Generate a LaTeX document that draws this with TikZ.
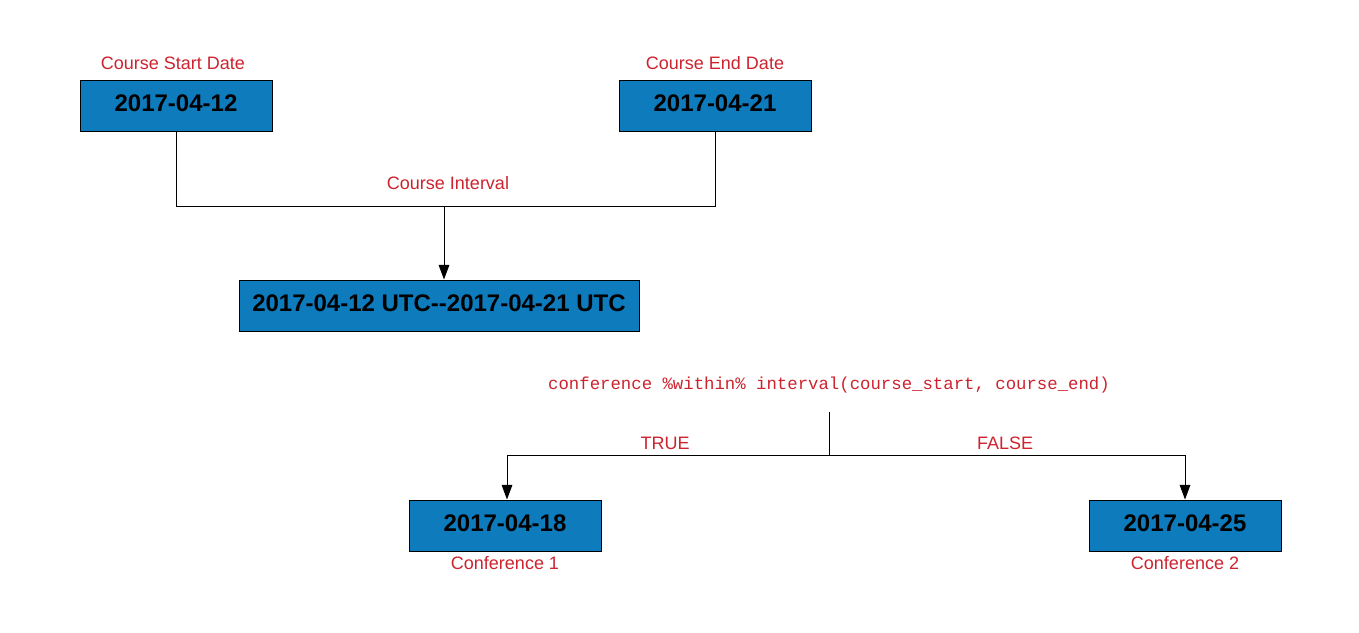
\documentclass[tikz,border=0pt]{standalone}
\usepackage{fontspec}
\setmainfont{Liberation Sans}
\newfontfamily\codefont{Liberation Mono}
\usetikzlibrary{arrows.meta,shadows}
\definecolor{boxblue}{RGB}{14,123,189}
\definecolor{lblred}{RGB}{204,35,46}
\tikzset{
  datebox/.style={draw=black, line width=0.75pt, fill=boxblue, minimum width=144pt, minimum height=38.25pt,
    inner sep=0pt, text depth=3pt, font=\fontsize{18}{20}\selectfont\bfseries, text=black,
    drop shadow={shadow xshift=1pt, shadow yshift=-1pt, fill=black, opacity=1}},
  lbl/.style={text=lblred, font=\fontsize{13.5}{15}\selectfont, inner sep=0pt},
  codelbl/.style={text=lblred, font=\codefont\fontsize{13}{15}\selectfont, inner sep=0pt},
  conn/.style={draw=black, line width=0.75pt},
  arr/.style={conn, -{Triangle[length=11pt,width=8pt]}}
}
\begin{document}
\begin{tikzpicture}[x=0.75pt,y=-0.75pt]
\useasboundingbox (0,0) rectangle (1359,632);
% boxes
\node[datebox] (s) at (176,105.5) {2017-04-12};
\node[datebox] (e) at (715,105.5) {2017-04-21};
\node[datebox, minimum width=300pt] (iv) at (439,305.5) {2017-04-12 UTC-{}-2017-04-21 UTC};
\node[datebox] (c1) at (505,525.5) {2017-04-18};
\node[datebox] (c2) at (1185,525.5) {2017-04-25};
% labels
\node[lbl] (ls) at (173,63) {Course Start Date};
\node[lbl] (le) at (715,63) {Course End Date};
\node[lbl] (li) at (448,183) {Course Interval};
\node[codelbl] (code) at (829,385) {conference \%within\% interval(course\_start, course\_end)};
\node[lbl] (lt) at (665,443) {TRUE};
\node[lbl] (lf) at (1005,443) {FALSE};
\node[lbl] (l1) at (505,563) {Conference 1};
\node[lbl] (l2) at (1185,563) {Conference 2};
% connectors
\coordinate (j) at (444,206.5);
\draw[conn] (s.south) |- (j) -| (e.south);
\draw[arr] (j) -- (j |- iv.north);
\coordinate (ct) at (829,412);
\coordinate (cb) at (829,455.5);
\draw[conn] (ct) -- (cb);
\draw[arr] (cb) -| ([xshift=1.5pt]c1.north);
\draw[arr] (cb) -| (c2.north);
\end{tikzpicture}
\end{document}
